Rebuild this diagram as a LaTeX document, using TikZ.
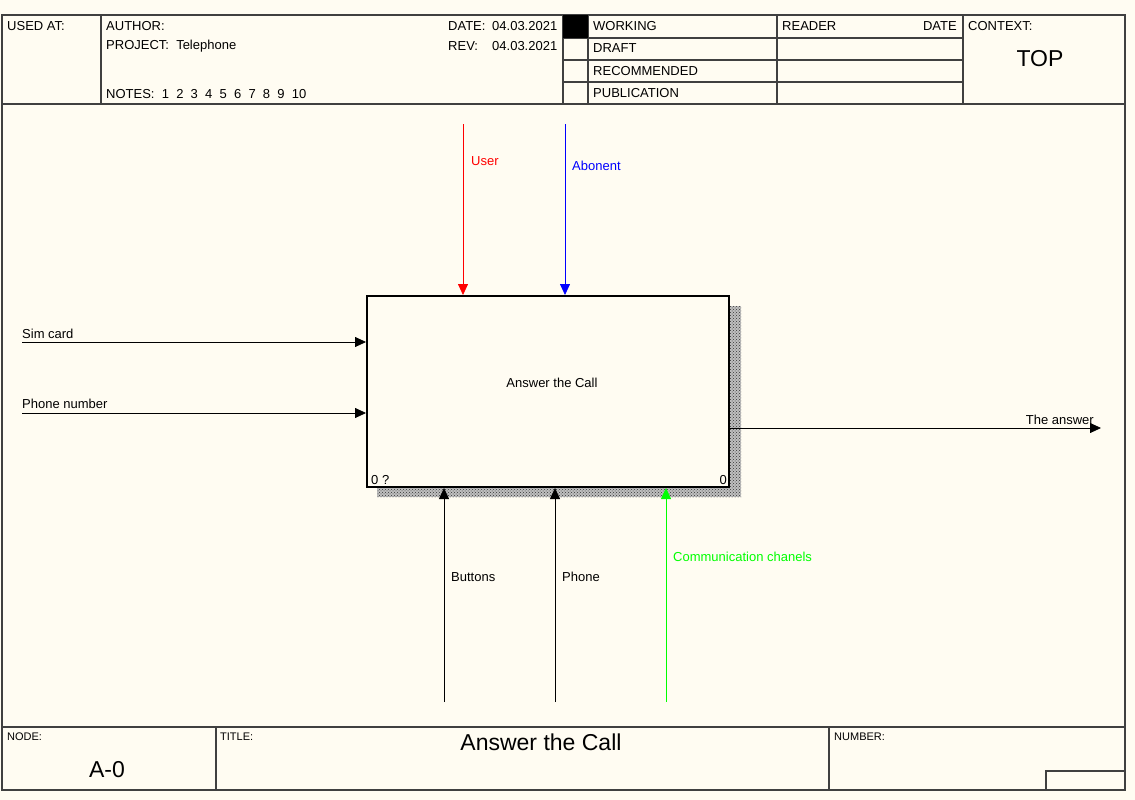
\documentclass[tikz,border=0pt]{standalone}
\usepackage{fontspec}
\setmainfont{Liberation Sans}
\usetikzlibrary{arrows.meta,patterns}
\definecolor{paper}{RGB}{255,252,242}
\definecolor{frame}{RGB}{64,64,64}
\tikzset{
	lbl/.style = {inner sep=0pt, anchor=west, font=\fontsize{13}{15}\selectfont},
	small/.style = {inner sep=0pt, anchor=west, font=\fontsize{11}{13}\selectfont},
	big/.style = {inner sep=0pt, font=\fontsize{23}{26}\selectfont},
	grid/.style = {frame, line width=1.3pt},
	flow/.style = {line width=0.8pt, -{Triangle[length=11pt,width=10pt]}},
	shade/.style = {fill=black!25, postaction={pattern=crosshatch dots, pattern color=black!80}}
}

\begin{document}
\begin{tikzpicture}[x=1pt, y=-1pt]
	\fill[paper] (0,0) rectangle (1135,800);
	\useasboundingbox (0,0) rectangle (1135,800);
	% frame and header
	\draw[grid] (2,15) rectangle (1125,790);
	\draw[grid] (2,104)--(1125,104);
	\draw[grid] (101,15)--(101,104);
	\draw[grid] (563,15)--(563,104);
	\draw[grid] (588,15)--(588,104);
	\draw[grid] (777,15)--(777,104);
	\draw[grid] (963,15)--(963,104);
	\foreach \y in {38,60,82}
		\draw[grid] (563,\y)--(963,\y);
	\fill[black] (563,15) rectangle (588,38);
	\node[lbl] (usedat) at (7,26) {USED AT:};
	\node[lbl] (author) at (106,26) {AUTHOR:};
	\node[lbl] (project) at (106,46) {PROJECT:\ \ Telephone};
	\node[lbl] (notes) at (106,94) {NOTES:\ \ 1\ \ 2\ \ 3\ \ 4\ \ 5\ \ 6\ \ 7\ \ 8\ \ 9\ \ 10};
	\node[lbl] (date) at (448,26) {DATE:};
	\node[lbl] (dateval) at (492,26) {04.03.2021};
	\node[lbl] (rev) at (448,46) {REV:};
	\node[lbl] (revval) at (492,46) {04.03.2021};
	\node[lbl] (working) at (593,26) {WORKING};
	\node[lbl] (draft) at (593,48) {DRAFT};
	\node[lbl] (recommended) at (593,71) {RECOMMENDED};
	\node[lbl] (publication) at (593,93) {PUBLICATION};
	\node[lbl] (reader) at (782,26) {READER};
	\node[lbl, anchor=east] (readerdate) at (957,26) {DATE};
	\node[lbl] (context) at (968,26) {CONTEXT:};
	\node[big] (top) at (1040,59) {TOP};
	% footer
	\draw[grid] (2,727)--(1125,727);
	\draw[grid] (216,727)--(216,790);
	\draw[grid] (829,727)--(829,790);
	\draw[grid] (1046,790)--(1046,771)--(1125,771);
	\node[small] (nodelbl) at (7,737) {NODE:};
	\node[big] (nodeval) at (107,770) {A-0};
	\node[small] (titlelbl) at (220,737) {TITLE:};
	\node[big] (titleval) at (541,742) {Answer the Call};
	\node[small] (numberlbl) at (834,737) {NUMBER:};
	% activity box with shadow
	\fill[shade] (729,306) rectangle (741,497);
	\fill[shade] (377,487) rectangle (729,497);
	\node[draw, line width=2pt, fill=paper, minimum width=362pt, minimum height=191pt] (call) at (548,391.5) {};
	\node[lbl, anchor=center] (calltext) at (552,383) {Answer the Call};
	\node[lbl, anchor=south west] (callnum) at ([shift={(5,-3)}]call.south west) {0 ?};
	\node[lbl, anchor=south east] (callid) at ([shift={(-3,-3)}]call.south east) {0};
	% controls
	\coordinate (usertop) at (463,124);
	\coordinate (abontop) at (565,124);
	\draw[flow, red] (usertop)--(call.north -| usertop);
	\draw[flow, blue] (abontop)--(call.north -| abontop);
	\node[lbl, red] (userlbl) at (471,161) {User};
	\node[lbl, blue] (abonlbl) at (572,166) {Abonent};
	% inputs
	\coordinate (simleft) at (22,342);
	\coordinate (phoneleft) at (22,413);
	\draw[flow] (simleft)--(call.west |- simleft);
	\draw[flow] (phoneleft)--(call.west |- phoneleft);
	\node[lbl] (simlbl) at (22,334) {Sim card};
	\node[lbl] (phonelbl) at (22,404) {Phone number};
	% output
	\coordinate (answerend) at (1101,428);
	\draw[flow] (call.east |- answerend)--(answerend);
	\node[lbl, anchor=east] (answerlbl) at (1094,420) {The answer};
	% mechanisms
	\coordinate (buttonsbot) at (444,702);
	\coordinate (phonebot) at (555,702);
	\coordinate (chanbot) at (666,702);
	\draw[flow] (buttonsbot)--(call.south -| buttonsbot);
	\draw[flow] (phonebot)--(call.south -| phonebot);
	\draw[flow, green] (chanbot)--(call.south -| chanbot);
	\node[lbl] (buttonslbl) at (451,577) {Buttons};
	\node[lbl] (phoneunit) at (562,577) {Phone};
	\node[lbl, green] (chanlbl) at (673,557) {Communication chanels};
\end{tikzpicture}
\end{document}
